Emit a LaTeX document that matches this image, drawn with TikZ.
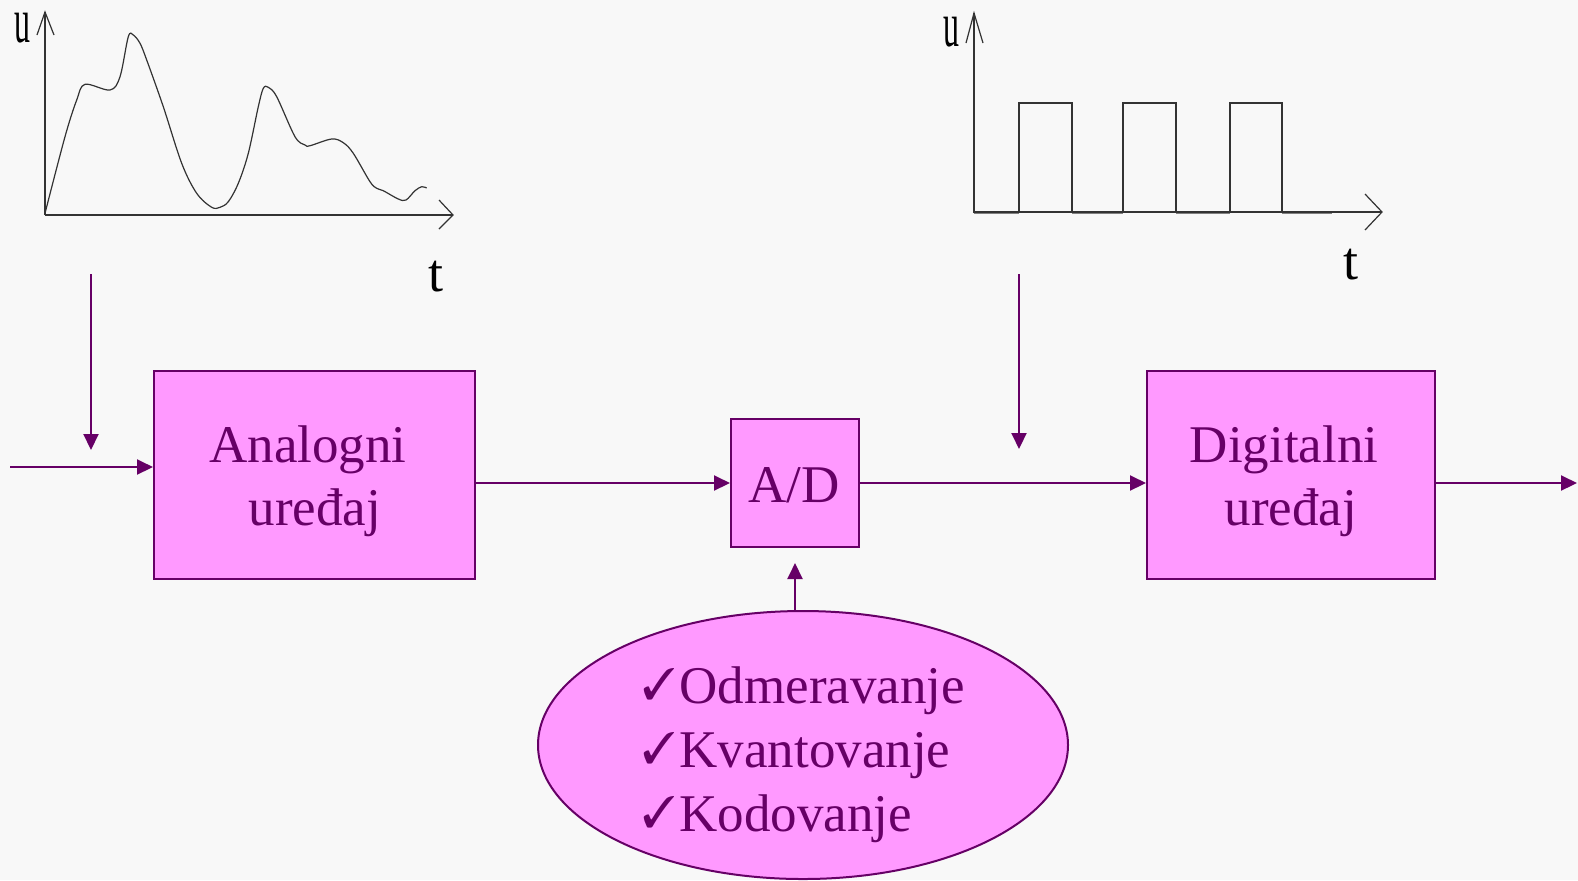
\documentclass[tikz,border=0pt]{standalone}
\usepackage{fontspec}
\setmainfont{Liberation Serif}
\usepackage{pifont}
\usetikzlibrary{arrows.meta,shapes.geometric}
\definecolor{bg}{HTML}{F8F8F8}
\definecolor{pk}{HTML}{FF99FF}
\definecolor{pu}{HTML}{660066}
\definecolor{gr}{HTML}{333333}
\newcommand{\chk}{{\fontsize{22}{22}\selectfont\raisebox{2pt}{\ding{51}}}\hspace{2pt}}
\tikzset{
  blk/.style={draw=pu, fill=pk, line width=1pt, inner sep=0pt},
  txt/.style={text=pu, font=\fontsize{26.5}{30}\selectfont, inner sep=0pt, anchor=base},
  ltxt/.style={text=pu, font=\fontsize{26.5}{30}\selectfont, inner sep=0pt, anchor=base west},
  conn/.style={draw=pu, line width=1pt, -{Triangle[length=8pt,width=7.5pt]}},
  axis/.style={draw=gr, line width=0.6pt},
  sig/.style={draw=gr, line width=0.6pt},
  axlbl/.style={text=black, inner sep=0pt, anchor=base, text height=0.46em, text depth=0pt}
}
\begin{document}
\begin{tikzpicture}[x=0.5pt,y=-0.5pt]
\fill[bg] (0,0) rectangle (1578,880);
\useasboundingbox (0,0) rectangle (1578,880);

% ---- analog chart ----
\draw[axis] (45,215) -- (45,12);
\draw[axis] (37,35) -- (45,12) -- (54,35);
\draw[axis] (45,215) -- (453,215);
\draw[axis] (439,200) -- (453,215) -- (439,229);
\draw[sig] plot[smooth, tension=0.55] coordinates {(45,213.3) (65,136.7) (76.7,100) (85,84.3) (110,90) (120,76.7) (128.3,36.7) (133.3,35) (140,43.3) (146.7,60) (163.3,106.7) (181.7,163.3) (196.7,193.3) (211.7,207.3) (220,207.3) (228.3,201.7) (238.3,183.3) (248.3,153.3) (258.3,106.7) (263.3,88.3) (268.3,87.3) (276.7,96.7) (295,136.7) (305,145) (310,145.7) (331.7,139) (343.3,142.7) (353.3,153.3) (370,181.7) (376.7,188.3) (383.3,190.7) (398.3,199) (406,200) (415,190.7) (421.7,186.7) (426.7,188)};
\node[axlbl, font=\fontsize{32}{32}\selectfont, xscale=0.5] (u1) at (22.5,42) {u};
\node[axlbl, font=\fontsize{27}{27}\selectfont] (t1) at (436,291) {t};

% ---- digital chart ----
\draw[axis] (974,213) -- (974,13);
\draw[axis] (966,43) -- (974,13) -- (983,43);
\draw[axis] (974,212) -- (1382,212);
\draw[axis] (1365,194) -- (1382,212) -- (1365,230);
\draw[draw=gray, line width=1.2pt] (974,213) -- (1019,213) (1072,213) -- (1123,213) (1176,213) -- (1230,213) (1282,213) -- (1332,213);
\draw[sig] (974,212) -- (1019,212) -- (1019,103) -- (1072,103) -- (1072,212) -- (1123,212) -- (1123,103) -- (1176,103) -- (1176,212) -- (1230,212) -- (1230,103) -- (1282,103) -- (1282,212) -- (1332,212);
\node[axlbl, font=\fontsize{32}{32}\selectfont, xscale=0.5] (u2) at (951,46) {u};
\node[axlbl, font=\fontsize{27}{27}\selectfont] (t2) at (1351,279) {t};

% ---- blocks ----
\node[blk, minimum width=160.5pt, minimum height=104pt] (ana) at (314.5,475) {};
\node[txt] (ana1) at (308,462) {Analogni};
\node[txt] (ana2) at (315,525) {uređaj};

\node[blk, minimum width=64pt, minimum height=64pt] (ad) at (795,483) {};
\node[txt] (adt) at (794,502) {A/D};

\node[blk, minimum width=144pt, minimum height=104pt] (dig) at (1291,475) {};
\node[txt] (dig1) at (1284,462) {Digitalni};
\node[txt] (dig2) at (1291,525) {uređaj};

\node[blk, ellipse, minimum width=265pt, minimum height=134pt] (ell) at (803,745) {};
\node[ltxt] (e1) at (642,703) {\chk Odmeravanje};
\node[ltxt] (e2) at (642,767) {\chk Kvantovanje};
\node[ltxt] (e3) at (642,831) {\chk Kodovanje};

% ---- connectors ----
\coordinate (in) at (10,467);
\coordinate (d1s) at (91,274);
\coordinate (d1e) at (91,450);
\coordinate (d2s) at (1019,274);
\coordinate (d2e) at (1019,449);
\coordinate (out) at (1577,483);
\coordinate (upe) at (795,563);

\draw[conn] (in) -- (in -| ana.west);
\draw[conn] (d1s) -- (d1e);
\draw[conn] (ad.west -| ana.east) -- (ad.west);
\draw[conn] (ad.east) -- (ad.east -| dig.west);
\draw[conn] (d2s) -- (d2e);
\draw[conn] (ad.east -| dig.east) -- (out);
\draw[conn] (upe |- ell.north) -- (upe);
\end{tikzpicture}
\end{document}
